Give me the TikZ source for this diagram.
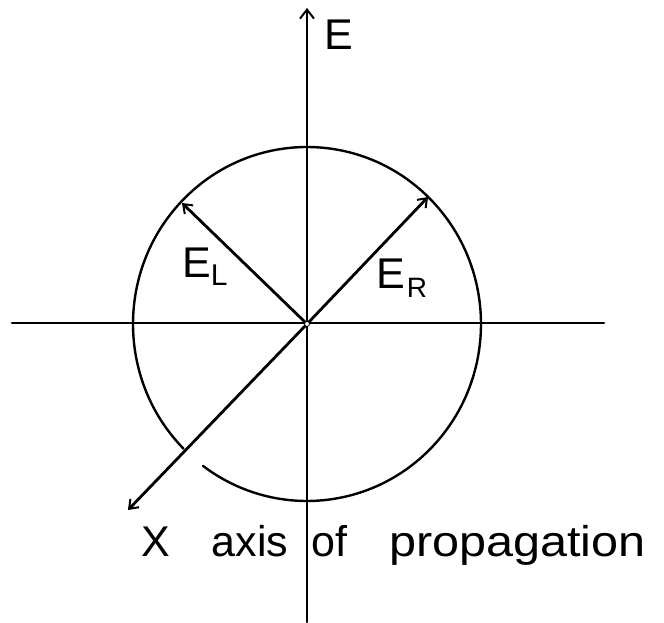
\documentclass[tikz,border=0pt]{standalone}
\usepackage{fontspec}
\setmainfont{Liberation Sans}
\usetikzlibrary{arrows.meta}
\begin{document}
\begin{tikzpicture}[x=1pt,y=-1pt,
  axisline/.style={line width=2.3pt, line cap=round},
  ringline/.style={line width=2.4pt, line cap=round},
  vec/.style={line width=2.8pt, line cap=round, -{Straight Barb[length=8pt,width=12pt,line width=2pt]}},
  lbl/.style={inner sep=0pt, anchor=base west, font=\fontsize{43}{43}\selectfont}]
\useasboundingbox (0,0) rectangle (664,623);
\coordinate (c) at (307,324);
\coordinate (etop) at (307,8);
\coordinate (ebot) at (307,622);
\coordinate (hl) at (12,323);
\coordinate (hr) at (604,323);
\coordinate (eltip) at (182,203);
\coordinate (ertip) at (428,197);
\coordinate (xtip) at (128,510);
% axes
\draw[axisline, -{Straight Barb[length=9pt,width=14pt,line width=2pt]}] (ebot) -- (etop);
\draw[axisline] (hl) -- (hr);
% circle with a small gap where the X axis crosses it
\draw[ringline] (c) ++(135.2:174 and 177) arc[start angle=135.2, end angle=486.7, x radius=174, y radius=177];
% vectors
\draw[vec] (c) -- (eltip);
\draw[vec] (c) -- (ertip);
\draw[vec] (c) -- (xtip);
\node[circle, draw, line width=0.8pt, fill=white, minimum size=5pt, inner sep=0pt] (o) at (c) {};
% labels
\node[lbl] (elab) at (324,50) {E};
\node[lbl] (ellab) at (182,277) {E\hspace{0pt}\raisebox{-8pt}{\fontsize{30}{30}\selectfont L}};
\node[lbl] (erlab) at (376,288) {E\hspace{2pt}\raisebox{-9pt}{\fontsize{28}{28}\selectfont R}};
\node[lbl] (xlab) at (141,556) {X\hspace{42pt}axis\hspace{23pt}of\hspace{42pt}\scalebox{1.13}[1]{propagation}};
\end{tikzpicture}
\end{document}
